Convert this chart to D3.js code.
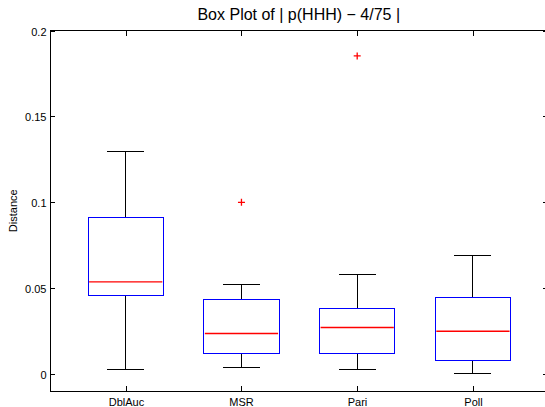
<!doctype html>
<html lang="en">
<head>
  <meta charset="utf-8">
  <title>Box Plot</title>
  <script src="https://cdn.jsdelivr.net/npm/d3@7"></script>
  <style>
    body { margin: 0; background: #fff; }
    text { font-family: "Liberation Sans", Arial, sans-serif; fill: #000; }
    .crisp { shape-rendering: crispEdges; }
  </style>
</head>
<body>
  <div id="container"></div>
<script>
  // box statistics
  const categories = ['DblAuc', 'MSR', 'Pari', 'Poll'];
  const whiskerLow = [0.0025, 0.0035, 0.0023, 0.0002];
  const q1 = [0.0455, 0.0120, 0.0118, 0.0078];
  const medians = [0.0536, 0.0235, 0.0270, 0.0248];
  const q3 = [0.0913, 0.0431, 0.0379, 0.0445];
  const whiskerHigh = [0.1298, 0.0519, 0.0579, 0.0692];
  const outliers = [[], [0.0999], [0.1852], []];
  const yTicks = [0, 0.05, 0.1, 0.15, 0.2];

  const width = 545, height = 407;
  const plot = { left: 50.5, right: 547, top: 30.5, bottom: 391 };

  const svg = d3.select('#container')
    .append('svg')
    .attr('width', width)
    .attr('height', height);

  const x = d3.scaleLinear().domain([0.35, 4.64]).range([plot.left, plot.right]);
  const y = d3.scaleLinear().domain([-0.01, 0.2]).range([plot.bottom, plot.top]);

  const boxHalf = 0.325, capHalf = 0.16;

  const data = categories.map((c, i) => ({
    name: c, pos: i + 1,
    lo: whiskerLow[i], q1: q1[i], med: medians[i], q3: q3[i], hi: whiskerHigh[i],
    out: outliers[i]
  }));

  // axes frame
  svg.append('rect').attr('class', 'crisp')
    .attr('x', plot.left).attr('y', plot.top)
    .attr('width', plot.right - plot.left).attr('height', plot.bottom - plot.top)
    .attr('fill', 'none').attr('stroke', '#000').attr('stroke-width', 1);

  // y ticks, inward on both sides
  const yt = svg.append('g').attr('class', 'crisp');
  yTicks.forEach(t => {
    const py = Math.round(y(t)) + 0.5;
    yt.append('line').attr('x1', plot.left).attr('x2', plot.left + 4)
      .attr('y1', py).attr('y2', py).attr('stroke', '#000');
    yt.append('line').attr('x1', plot.right - 4).attr('x2', plot.right)
      .attr('y1', py).attr('y2', py).attr('stroke', '#000');
    yt.append('text').attr('x', plot.left - 4).attr('y', py + 4)
      .attr('text-anchor', 'end').attr('font-size', 11)
      .text(d3.format('~g')(t));
  });

  // x ticks, inward on top and bottom
  const xt = svg.append('g').attr('class', 'crisp');
  data.forEach(d => {
    const px = Math.round(x(d.pos)) + 0.5;
    xt.append('line').attr('x1', px).attr('x2', px)
      .attr('y1', plot.bottom).attr('y2', plot.bottom - 5).attr('stroke', '#000');
    xt.append('line').attr('x1', px).attr('x2', px)
      .attr('y1', plot.top).attr('y2', plot.top + 5).attr('stroke', '#000');
    xt.append('text').attr('x', px).attr('y', plot.bottom + 15)
      .attr('text-anchor', 'middle').attr('font-size', 11)
      .text(d.name);
  });

  // boxes
  const g = svg.append('g').selectAll('g').data(data).join('g');

  g.append('line').attr('class', 'crisp') // upper whisker
    .attr('x1', d => x(d.pos)).attr('x2', d => x(d.pos))
    .attr('y1', d => y(d.q3)).attr('y2', d => y(d.hi))
    .attr('stroke', '#000');
  g.append('line').attr('class', 'crisp') // lower whisker
    .attr('x1', d => x(d.pos)).attr('x2', d => x(d.pos))
    .attr('y1', d => y(d.q1)).attr('y2', d => y(d.lo))
    .attr('stroke', '#000');
  g.append('line').attr('class', 'crisp')
    .attr('x1', d => x(d.pos - capHalf)).attr('x2', d => x(d.pos + capHalf))
    .attr('y1', d => y(d.hi)).attr('y2', d => y(d.hi))
    .attr('stroke', '#000');
  g.append('line').attr('class', 'crisp')
    .attr('x1', d => x(d.pos - capHalf)).attr('x2', d => x(d.pos + capHalf))
    .attr('y1', d => y(d.lo)).attr('y2', d => y(d.lo))
    .attr('stroke', '#000');

  g.append('rect').attr('class', 'crisp')
    .attr('x', d => x(d.pos - boxHalf))
    .attr('width', d => x(d.pos + boxHalf) - x(d.pos - boxHalf))
    .attr('y', d => y(d.q3))
    .attr('height', d => y(d.q1) - y(d.q3))
    .attr('fill', 'none').attr('stroke', '#0000ff');

  // median, drawn a bit soft so the red survives
  g.append('line')
    .attr('x1', d => x(d.pos - boxHalf) + 1).attr('x2', d => x(d.pos + boxHalf) - 1)
    .attr('y1', d => y(d.med)).attr('y2', d => y(d.med))
    .attr('stroke', '#ff0000').attr('stroke-width', 1.3);

  // outliers as red plus signs
  g.selectAll('path.out')
    .data(d => d.out.map(v => ({ pos: d.pos, v })))
    .join('path')
    .attr('class', 'out')
    .attr('d', d => {
      const cx = x(d.pos), cy = y(d.v);
      return `M${cx - 3.5},${cy}H${cx + 3.5}M${cx},${cy - 3.5}V${cy + 3.5}`;
    })
    .attr('stroke', '#ff0000').attr('stroke-width', 1.3).attr('fill', 'none');

  // title and y label
  svg.append('text')
    .attr('x', (plot.left + plot.right) / 2).attr('y', 20)
    .attr('text-anchor', 'middle').attr('font-size', 16)
    .text('Box Plot of | p(HHH) \u2212 4/75 |');

  svg.append('text')
    .attr('transform', `translate(17,${(plot.top + plot.bottom) / 2})rotate(-90)`)
    .attr('text-anchor', 'middle').attr('font-size', 11)
    .text('Distance');
</script>
</body>
</html>
